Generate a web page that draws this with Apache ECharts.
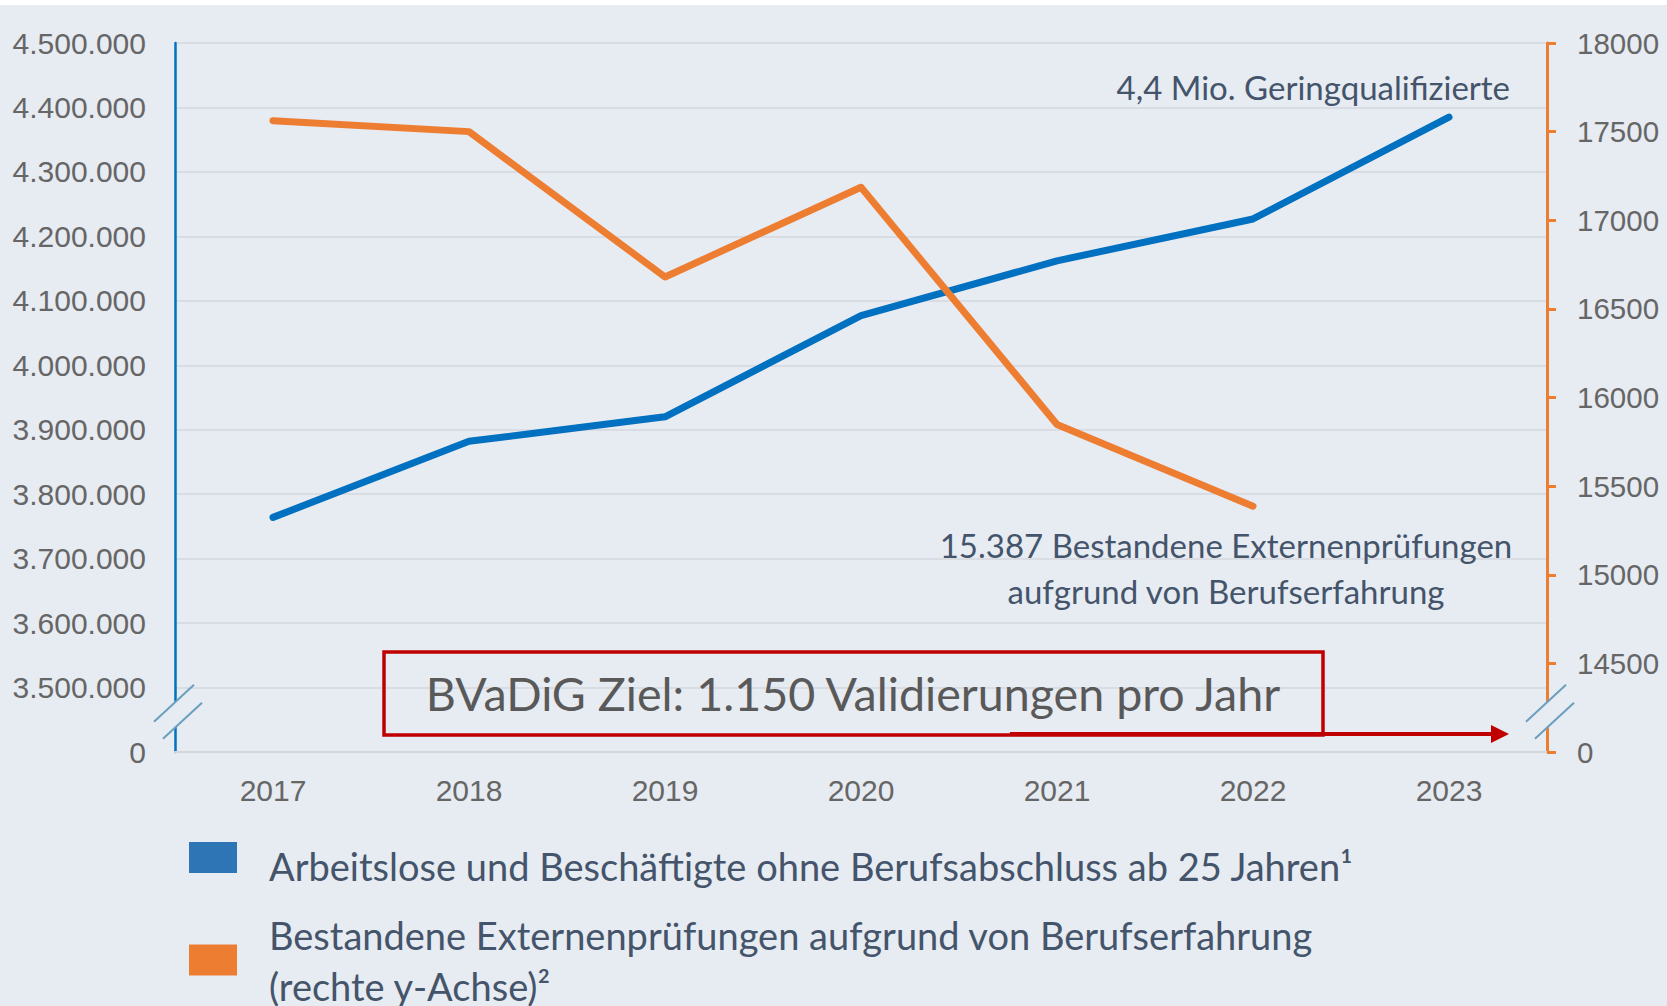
<!DOCTYPE html>
<html><head><meta charset="utf-8">
<script src="https://cdn.jsdelivr.net/npm/echarts@6/dist/echarts.min.js"></script>
<style>html,body{margin:0;padding:0;background:#ffffff}#c{width:1667px;height:1006px}</style>
</head><body><div id="c"></div>
<script>
// ---- data ----
const years = ['2017', '2018', '2019', '2020', '2021', '2022', '2023'];
const geringqualifizierte = [3764000, 3882000, 3920000, 4077000, 4162000, 4227000, 4385000];
const externenpruefungen = [17562, 17500, 16680, 17186, 15848, 15387, null];
const seriesNames = [
  'Arbeitslose und Beschäftigte ohne Berufsabschluss ab 25 Jahren¹',
  'Bestandene Externenprüfungen aufgrund von Berufserfahrung\n(rechte y-Achse)²'
];
// broken axes: lowest tick is shown as "0"
const leftAxisRange = [3400000, 4500000];
const leftAxisStep = 100000;
const rightAxisRange = [14000, 18000];
const rightAxisStep = 500;
const annotations = [
  '4,4 Mio. Geringqualifizierte',
  '15.387 Bestandene Externenprüfungen\naufgrund von Berufserfahrung',
  'BVaDiG Ziel: 1.150 Validierungen pro Jahr'
];

// ---- styling ----
const BG = '#e7ebf2';
const BLUE = '#0070c0';
const BLUE_SWATCH = '#2e75b6';
const ORANGE = '#ed7d31';
const RED = '#c00000';
const TEXT_DARK = '#44546a';
const AXIS_TEXT = '#666666';
const AXIS_FONT = 'Liberation Sans, Arial, sans-serif';
const GRID = { left: 175, right: 120, top: 43, bottom: 254 };
// legend swatches (48x31) placed inside a 48x47 icon box
const ICON_TOP = 'path://M0,0L48,0L48,31L0,31Z M0,47L0,47';
const ICON_MID = 'path://M0,8L48,8L48,39L0,39Z M0,0L0,0 M0,47L0,47';

function dots(v) { return String(v).replace(/\B(?=(\d{3})+(?!\d))/g, '.'); }

const chart = echarts.init(document.getElementById('c'), null, { renderer: 'svg' });
chart.setOption({
  backgroundColor: BG,
  animation: false,
  grid: GRID,
  xAxis: {
    type: 'category', data: years, boundaryGap: true,
    axisLine: { lineStyle: { color: '#d3d6da', width: 2 } },
    axisTick: { show: false },
    axisLabel: { fontSize: 30, color: AXIS_TEXT, fontFamily: AXIS_FONT, margin: 23 }
  },
  yAxis: [{
    type: 'value', position: 'left',
    min: leftAxisRange[0], max: leftAxisRange[1], interval: leftAxisStep,
    axisLine: { show: true, lineStyle: { color: BLUE, width: 2.5 } },
    axisTick: { show: false },
    axisLabel: { fontSize: 30, color: AXIS_TEXT, fontFamily: AXIS_FONT, margin: 29,
      formatter: v => v === leftAxisRange[0] ? '0' : dots(v) },
    splitLine: { lineStyle: { color: '#d9dde3', width: 2 } }
  }, {
    type: 'value', position: 'right',
    min: rightAxisRange[0], max: rightAxisRange[1], interval: rightAxisStep,
    axisLine: { show: true, lineStyle: { color: ORANGE, width: 3 } },
    axisTick: { show: true, length: 9, lineStyle: { color: ORANGE, width: 3 } },
    axisLabel: { fontSize: 29.5, color: AXIS_TEXT, fontFamily: AXIS_FONT, margin: 30,
      formatter: v => v === rightAxisRange[0] ? '0' : String(v) },
    splitLine: { show: false }
  }],
  legend: {
    orient: 'vertical', left: 189, top: 840, height: 300, padding: 0, itemGap: 18,
    itemWidth: 48, itemHeight: 47, symbolKeepAspect: true,
    selectedMode: false,
    textStyle: { fontSize: 38, lineHeight: 51, fontFamily: 'Lato', color: TEXT_DARK, padding: [0, 0, 0, 27] },
    data: [
      { name: seriesNames[0], icon: ICON_TOP, itemStyle: { color: BLUE_SWATCH } },
      { name: seriesNames[1], icon: ICON_MID, itemStyle: { color: ORANGE } }
    ]
  },
  series: [{
    name: seriesNames[0], type: 'line', yAxisIndex: 0, data: geringqualifizierte,
    color: BLUE, itemStyle: { color: BLUE },
    showSymbol: false, symbol: 'none',
    lineStyle: { color: BLUE, width: 7, cap: 'round', join: 'round' }
  }, {
    name: seriesNames[1], type: 'line', yAxisIndex: 1, data: externenpruefungen,
    color: ORANGE, itemStyle: { color: ORANGE },
    showSymbol: false, symbol: 'none',
    lineStyle: { color: ORANGE, width: 7, cap: 'round', join: 'round' }
  }]
});

// ---- decorations (axis breaks, annotations) ----
const leftX = GRID.left;
const rightX = 1667 - GRID.right;
const yA = chart.convertToPixel({ yAxisIndex: 0 }, leftAxisRange[0] + leftAxisStep);
const yB = chart.convertToPixel({ yAxisIndex: 0 }, leftAxisRange[0]);
const cy = (yA + yB) / 2 - 8;

function breakMark(ax) {
  return [
    { type: 'polygon', z: 100, silent: true,
      shape: { points: [[ax - 5, cy - 4.8], [ax + 5, cy - 14], [ax + 5, cy + 11.3], [ax - 5, cy + 20.5]] },
      style: { fill: BG } },
    { type: 'line', z: 101, silent: true,
      shape: { x1: ax - 21, y1: cy + 10, x2: ax + 19, y2: cy - 27 },
      style: { stroke: '#6a9fbf', lineWidth: 2 } },
    { type: 'line', z: 101, silent: true,
      shape: { x1: ax - 12, y1: cy + 27, x2: ax + 27, y2: cy - 9 },
      style: { stroke: '#6a9fbf', lineWidth: 2 } }
  ];
}

const graphics = [
  { type: 'rect', z: 200, silent: true, shape: { x: 0, y: 0, width: 1667, height: 5 }, style: { fill: '#ffffff' } },
  ...breakMark(leftX),
  ...breakMark(rightX),
  { type: 'text', z: 110, silent: true, x: 1510, y: 87,
    style: { text: annotations[0], fontSize: 33, fontFamily: 'Lato', fill: TEXT_DARK, align: 'right', verticalAlign: 'middle' } },
  { type: 'text', z: 110, silent: true, x: 1226, y: 568,
    style: { text: annotations[1], fontSize: 33, lineHeight: 46, fontFamily: 'Lato', fill: TEXT_DARK, align: 'center', verticalAlign: 'middle' } },
  { type: 'rect', z: 110, silent: true, shape: { x: 384, y: 652, width: 939, height: 83 },
    style: { fill: 'none', stroke: RED, lineWidth: 3.5 } },
  { type: 'text', z: 111, silent: true, x: 853, y: 693,
    style: { text: annotations[2], fontSize: 46.6, fontFamily: 'Lato', fill: '#595959', align: 'center', verticalAlign: 'middle' } },
  { type: 'line', z: 111, silent: true, shape: { x1: 1010, y1: 734, x2: 1493, y2: 734 },
    style: { stroke: RED, lineWidth: 4 } },
  { type: 'polygon', z: 111, silent: true, shape: { points: [[1491, 725], [1509, 734], [1491, 743]] },
    style: { fill: RED } }
];
chart.setOption({ graphic: graphics });
</script>
</body></html>
